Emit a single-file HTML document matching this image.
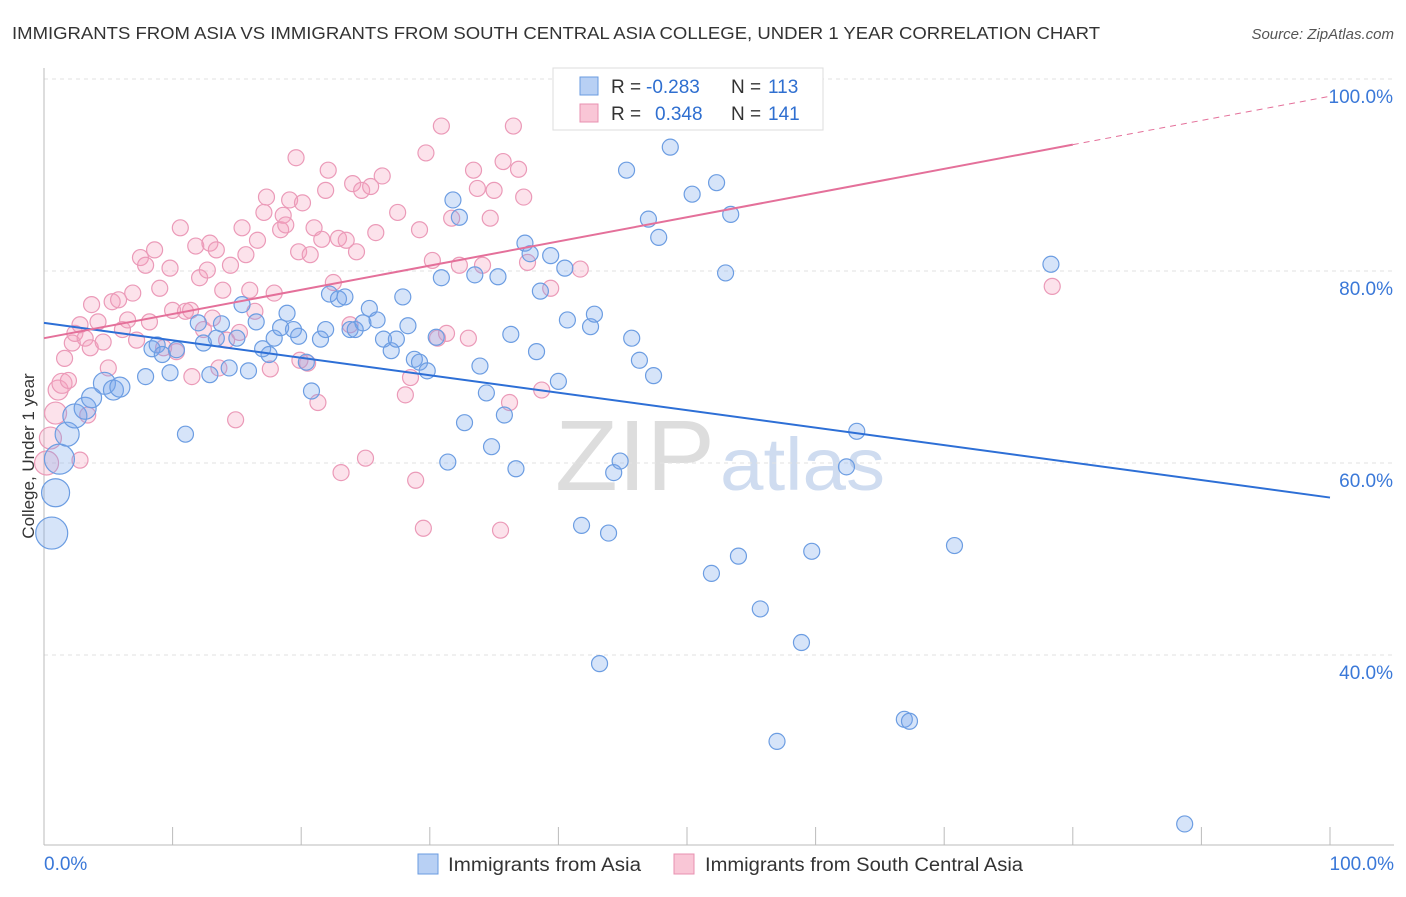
<!DOCTYPE html>
<html><head><meta charset="utf-8"><style>
body{margin:0;background:#fff;font-family:"Liberation Sans",sans-serif;}
svg text{font-family:"Liberation Sans",sans-serif;}
</style></head><body>
<svg id="c" width="1406" height="892">
<text x="12" y="39" font-size="17.5" fill="#333" textLength="1088" lengthAdjust="spacingAndGlyphs">IMMIGRANTS FROM ASIA VS IMMIGRANTS FROM SOUTH CENTRAL ASIA COLLEGE, UNDER 1 YEAR CORRELATION CHART</text>
<text x="1394" y="39" font-size="15" fill="#555" text-anchor="end" font-style="italic">Source: ZipAtlas.com</text>
<text x="555" y="490" font-size="100" fill="#ddd" font-family="Liberation Serif" textLength="160" lengthAdjust="spacingAndGlyphs">ZIP</text>
<text x="720" y="490" font-size="74" fill="#cfdcf0" textLength="165" lengthAdjust="spacingAndGlyphs">atlas</text>
<text transform="translate(34,456) rotate(-90)" font-size="17" fill="#333" text-anchor="middle">College, Under 1 year</text>
<g id="grid"></g><g id="pts"></g><g id="lines"></g>
<g>
<rect x="553" y="68" width="270" height="62" fill="#fff" stroke="#ddd"/>
<rect x="580" y="77" width="18" height="18" fill="#b8d0f4" stroke="#6a9be0"/>
<rect x="580" y="104" width="18" height="18" fill="#f9c6d6" stroke="#e890b0"/>
<text x="611" y="93" font-size="19" fill="#333">R =</text><text x="646" y="93" font-size="19" fill="#2f6fd0">-0.283</text>
<text x="731" y="93" font-size="19" fill="#333">N =</text><text x="768" y="93" font-size="19" fill="#2f6fd0">113</text>
<text x="611" y="120" font-size="19" fill="#333">R =</text><text x="655" y="120" font-size="19" fill="#2f6fd0">0.348</text>
<text x="731" y="120" font-size="19" fill="#333">N =</text><text x="768" y="120" font-size="19" fill="#2f6fd0">141</text>
</g>
<g>
<rect x="418" y="854" width="20" height="20" fill="#b8d0f4" stroke="#6a9be0"/>
<text x="448" y="871" font-size="19" fill="#333" textLength="193" lengthAdjust="spacingAndGlyphs">Immigrants from Asia</text>
<rect x="674" y="854" width="20" height="20" fill="#f9c6d6" stroke="#e890b0"/>
<text x="705" y="871" font-size="19" fill="#333" textLength="318" lengthAdjust="spacingAndGlyphs">Immigrants from South Central Asia</text>
</g>
</svg>
<script>
const blueX=[0.6,0.9,1.2,1.8,2.4,3.2,3.7,4.7,5.4,5.9,7.9,8.4,8.8,9.2,9.8,10.3,11.0,12.0,12.4,12.9,13.4,13.8,14.4,15.0,15.4,15.9,16.5,17.0,17.5,17.9,18.4,18.9,19.4,19.8,20.4,20.8,21.5,21.9,22.2,22.9,23.4,23.8,24.2,24.8,25.3,25.9,26.4,27.0,27.4,27.9,28.3,28.8,29.2,29.8,30.5,30.9,31.4,31.8,32.3,32.7,33.5,33.9,34.4,34.8,35.3,35.8,36.3,36.7,37.4,37.8,38.3,38.6,39.4,40.0,40.5,40.7,41.8,42.5,42.8,43.2,43.9,44.3,44.8,45.3,45.7,46.3,47.0,47.4,47.8,48.7,50.4,51.9,52.3,53.0,53.4,54.0,55.7,57.0,58.9,59.7,62.4,63.2,66.9,67.3,70.8,78.3,88.7];
const blueY=[52.7,56.9,60.4,63.0,64.9,65.7,66.8,68.3,67.6,67.9,69.0,71.9,72.3,71.3,69.4,71.8,63.0,74.6,72.5,69.2,73.0,74.5,69.9,73.0,76.5,69.6,74.7,71.9,71.3,73.0,74.1,75.6,73.9,73.2,70.5,67.5,72.9,73.9,77.6,77.1,77.3,73.9,73.9,74.6,76.1,74.9,72.9,71.7,72.9,77.3,74.3,70.8,70.5,69.6,73.1,79.3,60.1,87.4,85.6,64.2,79.6,70.1,67.3,61.7,79.4,65.0,73.4,59.4,82.9,81.8,71.6,77.9,81.6,68.5,80.3,74.9,53.5,74.2,75.5,39.1,52.7,59.0,60.2,90.5,73.0,70.7,85.4,69.1,83.5,92.9,88.0,48.5,89.2,79.8,85.9,50.3,44.8,31.0,41.3,50.8,59.6,63.3,33.3,33.1,51.4,80.7,22.4];
const pinkX=[0.2,0.5,0.9,1.1,1.4,1.6,1.9,2.2,2.4,2.8,3.2,3.6,3.7,4.2,4.6,5.0,5.3,5.8,6.1,6.5,6.9,7.2,7.5,7.9,8.2,8.6,9.0,9.3,9.8,10.0,10.3,10.6,11.0,11.4,11.5,11.8,12.1,12.4,12.7,12.9,13.1,13.4,13.6,13.9,14.2,14.5,14.9,15.2,15.4,15.7,16.0,16.4,16.6,17.1,17.3,17.6,17.9,18.4,18.6,18.8,19.1,19.6,19.8,20.1,20.5,20.7,21.0,21.3,21.6,21.9,22.1,22.5,22.9,23.1,23.5,23.8,24.0,24.3,24.7,25.0,25.4,25.8,26.3,27.5,28.1,28.5,29.2,29.5,29.7,30.2,30.6,30.9,31.3,31.7,32.3,33.0,33.4,33.7,34.1,34.7,35.0,35.5,35.7,36.2,36.5,36.9,37.3,37.6,38.7,39.4,41.7,78.4,28.9,19.9,2.8,3.4];
const pinkY=[60.0,62.6,65.2,67.6,68.3,70.9,68.6,72.5,73.5,74.4,73.0,72.0,76.5,74.7,72.6,69.9,76.8,77.0,73.9,74.9,77.7,72.8,81.4,80.6,74.7,82.2,78.2,72.0,80.3,75.9,71.6,84.5,75.8,75.9,69.0,82.6,79.3,73.9,80.1,82.9,75.1,82.2,69.9,78.0,72.8,80.6,64.5,73.6,84.5,81.7,78.0,75.8,83.2,86.1,87.7,69.8,77.7,84.3,85.8,84.8,87.4,91.8,82.0,87.1,70.4,81.7,84.5,66.3,83.3,88.4,90.5,78.8,83.4,59.0,83.2,74.4,89.1,82.0,88.4,60.5,88.8,84.0,89.9,86.1,67.1,68.9,84.3,53.2,92.3,81.1,73.0,95.1,73.5,85.5,80.6,73.0,90.5,88.6,80.6,85.5,88.4,53.0,91.4,66.3,95.1,90.6,87.7,80.9,67.6,78.2,80.2,78.4,58.2,70.7,60.3,65.0];
const blueBig=[16,14,15,12,12,11,10,11,10,10];
const pinkBig=[12,11,11,10,10];
const blueTrend=[74.6,56.4];
const pinkTrend=[73.0,98.2];
const trendSolidEnd=80;
const yTicks=[100,80,60,40];
const xTickCount=10;
const X=v=>44+v*12.86, Y=v=>1039-v*9.6;
const NS='http://www.w3.org/2000/svg';
function mk(p,t,a){const e=document.createElementNS(NS,t);for(const k in a)e.setAttribute(k,a[k]);p.appendChild(e);return e;}
const g=document.getElementById('grid');
yTicks.forEach(v=>{
 const l=mk(g,'line',{x1:44,x2:1394,y1:Y(v),y2:Y(v),stroke:'#e2e2e2','stroke-dasharray':'4 4'});
 
 
 const t=mk(g,'text',{x:1393,y:Y(v)+24,'font-size':19,fill:'#3a78d8','text-anchor':'end'});t.textContent=v.toFixed(1)+'%';
 
 
});
const ax=mk(g,'line',{x1:44,x2:1394,y1:845,y2:845,stroke:'#bbb'});


const ay=mk(g,'line',{x1:44,x2:44,y1:68,y2:845,stroke:'#bbb'});


for(let i=0;i<=xTickCount;i++){const v=i*100/xTickCount;const l=mk(g,'line',{x1:X(v),x2:X(v),y1:827,y2:845,stroke:'#bbb'});
 
 }
[[0,'start','0.0%',44],[100,'end','100.0%',1394]].forEach(d=>{const t=mk(g,'text',{x:d[3],y:870,'font-size':19,fill:'#3a78d8','text-anchor':d[1]});t.textContent=d[2];
 
 });
const pg=document.getElementById('pts');
pinkX.forEach((x,i)=>{const c=mk(pg,'circle',{cx:X(x),cy:Y(pinkY[i]),r:pinkBig[i]||8,fill:'rgba(244,160,190,0.3)',stroke:'#eb9ab8','stroke-width':1.2});
 
 });
blueX.forEach((x,i)=>{const c=mk(pg,'circle',{cx:X(x),cy:Y(blueY[i]),r:blueBig[i]||8,fill:'rgba(120,165,235,0.3)',stroke:'#6c9de2','stroke-width':1.2});
 
 });
const lg=document.getElementById('lines');
const bl=mk(lg,'line',{x1:X(0),y1:Y(blueTrend[0]),x2:X(100),y2:Y(blueTrend[1]),stroke:'#2d6fd6','stroke-width':2});


const pm=pinkTrend[0]+(pinkTrend[1]-pinkTrend[0])*trendSolidEnd/100;
const pl=mk(lg,'line',{x1:X(0),y1:Y(pinkTrend[0]),x2:X(trendSolidEnd),y2:Y(pm),stroke:'#e4709a','stroke-width':2});


const pd=mk(lg,'line',{x1:X(trendSolidEnd),y1:Y(pm),x2:X(100),y2:Y(pinkTrend[1]),stroke:'#e4709a','stroke-width':1,'stroke-dasharray':'6 5'});


</script>
</body></html>
